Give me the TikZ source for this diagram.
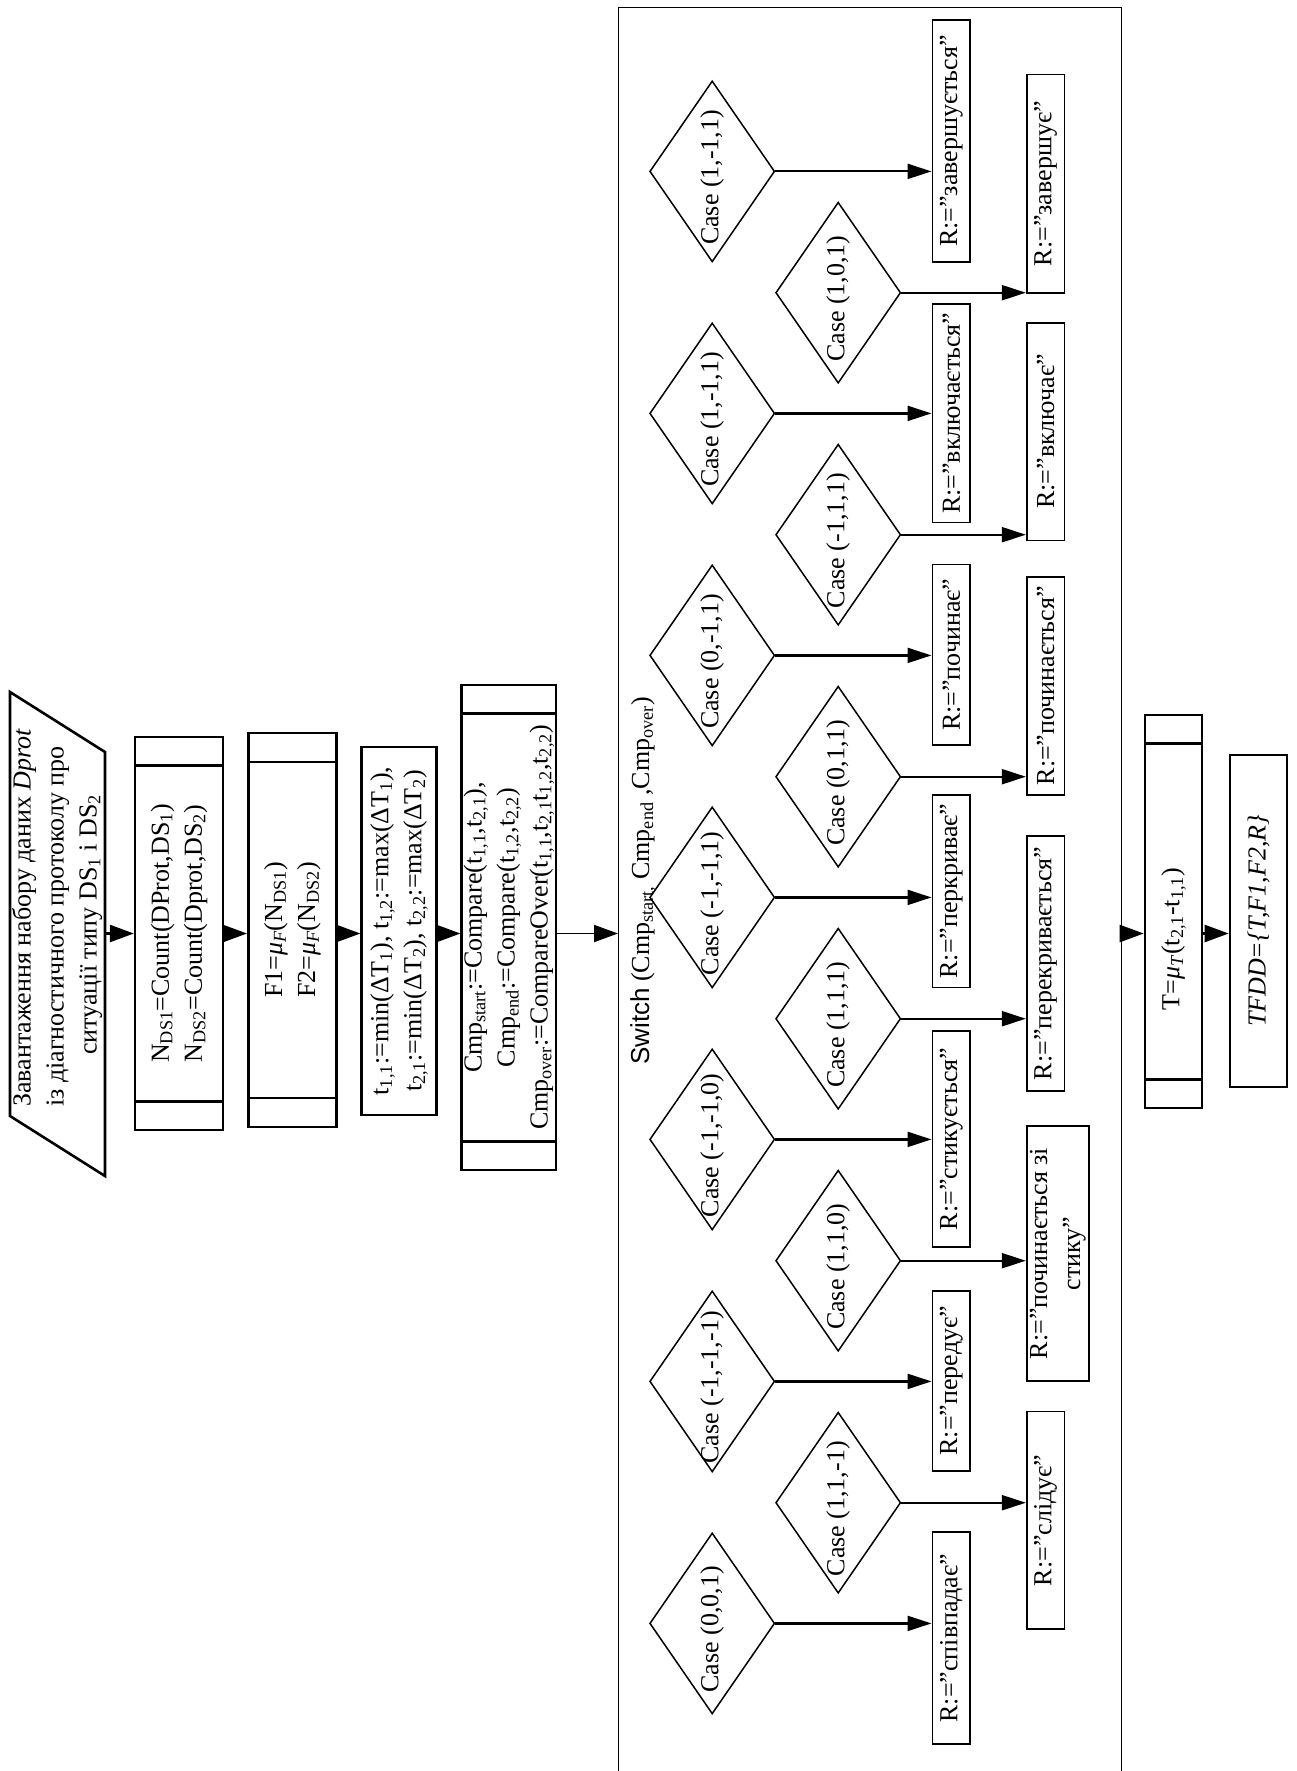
\documentclass[tikz,border=0pt]{standalone}
\usepackage{fontspec}
\setmainfont{Liberation Serif}
\newfontfamily\swsans{Liberation Sans}
\usetikzlibrary{arrows.meta,shapes.geometric,calc}

% horizontal dividers near the top and bottom of a rotated process block
\newcommand\bandsof[2]{%
  \draw[bandln] ([yshift=-#2]#1.north east) -- ([yshift=-#2]#1.south east)
                ([yshift=#2]#1.north west) -- ([yshift=#2]#1.south west);}

\begin{document}
\begin{tikzpicture}[x=1pt,y=-1pt,
  every node/.style={font=\fontsize{26}{33}\selectfont},
  blk/.style={draw,line width=2.6pt,rotate=90,inner sep=0pt,align=center},
  bandln/.style={line width=2.6pt},
  arr/.style={line width=2.4pt,-{Triangle[length=24pt,width=17pt]}},
  sarr/.style={line width=2.2pt,-{Triangle[length=24pt,width=15pt]}},
  dia/.style={draw,diamond,rotate=90,line width=1.5pt,inner sep=0pt,
              minimum width=181pt,minimum height=125pt},
  ctext/.style={rotate=90,inner sep=0pt},
  res/.style={draw,rotate=90,line width=1.8pt,inner sep=0pt,align=center},
  reswA/.style={res,minimum height=37.8pt},
  reswB/.style={res,minimum height=37.7pt}]

\useasboundingbox (0,0) rectangle (1297,1771);
\fill[white] (0,0) rectangle (1297,1771);
\clip (0,0) rectangle (1297,1771);

\coordinate (flow) at (0,933.5);

% data input
\coordinate (p1) at (10,692);
\coordinate (p2) at (105,752);
\coordinate (p3) at (105,1176);
\coordinate (p4) at (10,1116);
\draw[line width=2.6pt,line join=miter] (p1) -- (p2) -- (p3) -- (p4) -- cycle;
\node[rotate=90,anchor=west,inner sep=0pt] (inp) at (57,1107)
  {\begin{tabular}{@{}l@{}}Завантаження набору даних \textit{Dprot}\\
   із діагностичного протоколу про\\
   \hspace*{52pt}ситуації типу DS\textsubscript{1} і DS\textsubscript{2}\end{tabular}};

% processing blocks
\node[blk,minimum width=393pt,minimum height=87.7pt] (nbox) at (179,933.5)
  {N\textsubscript{DS1}=Count(DProt,DS\textsubscript{1})\\
   N\textsubscript{DS2}=Count(Dprot,DS\textsubscript{2})};
\bandsof{nbox}{30pt}

\node[blk,minimum width=393.7pt,minimum height=88.2pt] (fbox) at (292.4,930)
  {F1=\textit{μ}\textsubscript{\textit{F}}(N\textsubscript{DS1})\\
   F2=\textit{μ}\textsubscript{\textit{F}}(N\textsubscript{DS2})};
\bandsof{fbox}{30pt}

\node[blk,minimum width=368.3pt,minimum height=75pt] (tmbox) at (399.2,931)
  {t\textsubscript{1,1}:=min(ΔT\textsubscript{1}), t\textsubscript{1,2}:=max(ΔT\textsubscript{1}),\\
   t\textsubscript{2,1}:=min(ΔT\textsubscript{2}), t\textsubscript{2,2}:=max(ΔT\textsubscript{2})};

\node[blk,minimum width=485pt,minimum height=94.3pt] (cmpbox) at (508.9,927.5)
  {Cmp\textsubscript{start}:=Compare(t\textsubscript{1,1},t\textsubscript{2,1}),\\
   Cmp\textsubscript{end}:=Compare(t\textsubscript{1,2},t\textsubscript{2,2})\\
   Cmp\textsubscript{over}:=CompareOver(t\textsubscript{1,1},t\textsubscript{2,1}t\textsubscript{1,2},t\textsubscript{2,2})};
\bandsof{cmpbox}{30pt}

% switch container
\node[draw,line width=1.3pt,inner sep=0pt,anchor=north west,
      minimum width=503pt,minimum height=1830pt] (sw) at (618,7) {};
\node[rotate=90,anchor=west,inner sep=0pt] (swlbl) at (643,1065)
  {{\swsans Switch} (Cmp\textsubscript{start,} Cmp\textsubscript{end} ,Cmp\textsubscript{over})};

% cases, first column
\node[dia] (a1) at (712.2,171.4) {};
\node[dia] (a2) at (712.2,413.4) {};
\node[dia] (a3) at (712.2,655.4) {};
\node[dia] (a4) at (712.2,897.4) {};
\node[dia] (a5) at (712.2,1139.4) {};
\node[dia] (a6) at (712.2,1381.4) {};
\node[dia] (a7) at (712.2,1623.4) {};
\node[ctext] (a1t) at ([yshift=-6pt]a1.center) {Case (1,-1,1)};
\node[ctext] (a2t) at ([yshift=-6pt]a2.center) {Case (1,-1,1)};
\node[ctext] (a3t) at ([yshift=-6pt]a3.center) {Case (0,-1,1)};
\node[ctext] (a4t) at ([yshift=-6pt]a4.center) {Case (-1,-1,1)};
\node[ctext] (a5t) at ([yshift=-6pt]a5.center) {Case (-1,-1,0)};
\node[ctext] (a6t) at ([yshift=-6pt]a6.center) {Case (-1,-1,-1)};
\node[ctext] (a7t) at ([yshift=-6pt]a7.center) {Case (0,0,1)};

% cases, second column
\node[dia] (b1) at (838.2,292.7) {};
\node[dia] (b2) at (838.2,534.7) {};
\node[dia] (b3) at (838.2,776.7) {};
\node[dia] (b4) at (838.2,1018.7) {};
\node[dia] (b5) at (838.2,1260.7) {};
\node[dia] (b6) at (838.2,1502.7) {};
\node[ctext] (b1t) at ([yshift=-6pt]b1.center) {Case (1,0,1)};
\node[ctext] (b2t) at ([yshift=-6pt]b2.center) {Case (-1,1,1)};
\node[ctext] (b3t) at ([yshift=-6pt]b3.center) {Case (0,1,1)};
\node[ctext] (b4t) at ([yshift=-6pt]b4.center) {Case (1,1,1)};
\node[ctext] (b5t) at ([yshift=-6pt]b5.center) {Case (1,1,0)};
\node[ctext] (b6t) at ([yshift=-6pt]b6.center) {Case (1,1,-1)};

% results, first column
\node[reswA,minimum width=242.2pt] (ra1) at (951.3,141) {R:=”завершується”};
\node[reswA,minimum width=218.2pt] (ra2) at (951.3,413.3) {R:=”включається”};
\node[reswA,minimum width=180.4pt] (ra3) at (951.3,654.7) {R:=”починає”};
\node[reswA,minimum width=192.8pt] (ra4) at (951.3,891) {R:=”перкриває”};
\node[reswA,minimum width=216pt] (ra5) at (951.3,1139) {R:=”стикується”};
\node[reswA,minimum width=180.2pt] (ra6) at (951.3,1380.7) {R:=”передує”};
\node[reswA,minimum width=211.8pt] (ra7) at (951.3,1638.1) {R:=”співпадає”};

% results, second column
\node[reswB,minimum width=218.2pt] (rb1) at (1045.6,183.7) {R:=”завершує”};
\node[reswB,minimum width=217.8pt] (rb2) at (1045.6,431.5) {R:=”включає”};
\node[reswB,minimum width=217.6pt] (rb3) at (1045.6,685.8) {R:=”починається”};
\node[reswB,minimum width=255pt] (rb4) at (1045.6,963.5) {R:=”перекривається”};
\node[res,minimum width=254.9pt,minimum height=62.2pt] (rb5) at (1057.8,1253.5)
  {R:=”починається зі\\стику”};
\node[reswB,minimum width=217.8pt] (rb6) at (1045.6,1520.3) {R:=”слідує”};

% case branches
\foreach \c/\r in {a1/ra1,a2/ra2,a3/ra3,a4/ra4,a5/ra5,a6/ra6,a7/ra7,
                   b1/rb1,b2/rb2,b3/rb3,b4/rb4,b5/rb5,b6/rb6}
  \draw[sarr] (\c.south) -- (\c.south -| \r.north);

% output blocks
\node[blk,minimum width=393pt,minimum height=57pt] (mubox) at (1173.5,911.5) {};
\bandsof{mubox}{30pt}
\node[ctext] (mutext) at (1173.5,939)
  {T=\textit{μ}\textsubscript{\textit{T}}(t\textsubscript{2,1}-t\textsubscript{1,1})};
\node[blk,minimum width=332pt,minimum height=57pt] (tfdd) at (1258.5,921)
  {\textit{TFDD=\{T,F1,F2,R\}}};

% main flow
\draw[arr] (p2 |- flow) -- (nbox.north |- flow);
\draw[arr] (nbox.south |- flow) -- (fbox.north |- flow);
\draw[arr] (fbox.south |- flow) -- (tmbox.north |- flow);
\draw[arr] (tmbox.south |- flow) -- (cmpbox.north |- flow);
\draw[arr,line width=1.8pt] (cmpbox.south |- flow) -- (sw.west |- flow);
\draw[arr] (sw.east |- flow) -- (mubox.north |- flow);
\draw[arr] (mubox.south |- flow) -- (tfdd.north |- flow);
\end{tikzpicture}
\end{document}
